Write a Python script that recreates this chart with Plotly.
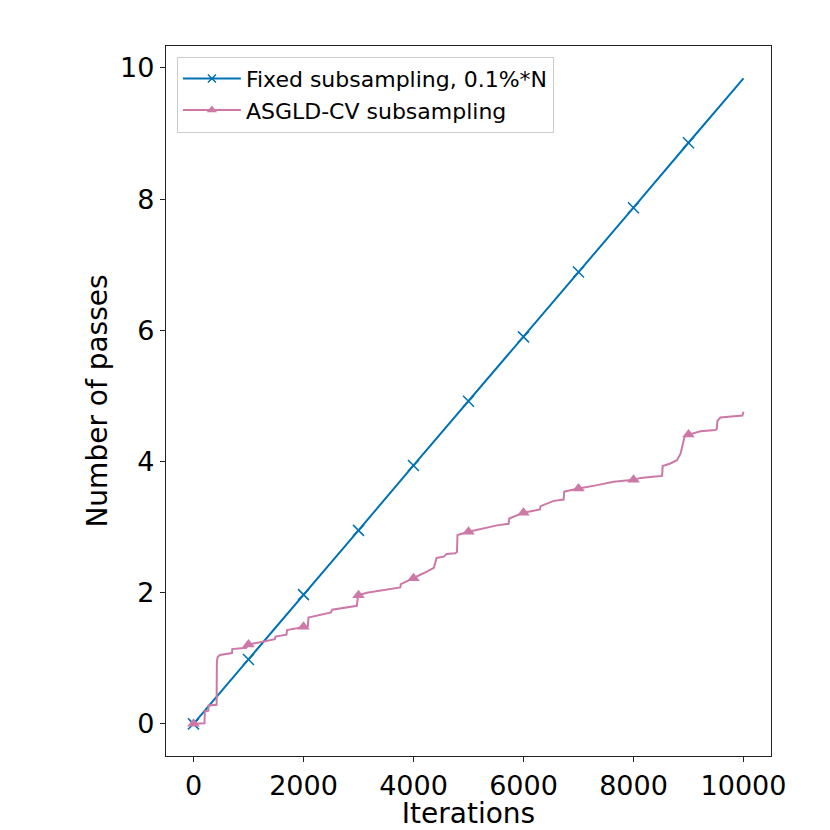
import plotly.graph_objects as go

# ---- data ----
fixed_iters = [0, 1000, 2000, 3000, 4000, 5000, 6000, 7000, 8000, 9000, 10000]
fixed_passes = [0.0, 0.98, 1.97, 2.95, 3.94, 4.92, 5.90, 6.89, 7.87, 8.86, 9.84]

asgld_iters = [0, 200, 205, 270, 275, 420, 425, 440, 480, 700, 705, 960, 1000,
               1480, 1490, 1690, 1700, 1900, 2000, 2080, 2090, 2500, 2520, 2970,
               2990, 3000, 3150, 3760, 3770, 4000, 4190, 4370, 4400, 4420, 4550,
               4600, 4760, 4790, 4800, 5000, 5540, 5730, 5740, 6000, 6300, 6310,
               6550, 6730, 6740, 7000, 7340, 7640, 8000, 8130, 8400, 8520, 8530,
               8670, 8790, 8855, 8915, 8930, 9000, 9220, 9490, 9515, 9525, 9580,
               9980, 10000]
asgld_passes = [0.0, 0.01, 0.19, 0.20, 0.28, 0.29, 0.95, 1.02, 1.05, 1.08, 1.14, 1.16, 1.21,
                1.29, 1.33, 1.36, 1.43, 1.46, 1.48, 1.49, 1.62, 1.70, 1.74, 1.80,
                1.95, 1.96, 2.00, 2.08, 2.13, 2.22, 2.30, 2.38, 2.47, 2.53, 2.55,
                2.59, 2.60, 2.62, 2.88, 2.93, 3.03, 3.05, 3.13, 3.22, 3.27, 3.32,
                3.40, 3.42, 3.54, 3.59, 3.64, 3.69, 3.72, 3.75, 3.77, 3.78, 3.93,
                3.97, 4.02, 4.12, 4.33, 4.38, 4.41, 4.46, 4.48, 4.50, 4.62, 4.67,
                4.70, 4.76]

marker_iters = [0, 1000, 2000, 3000, 4000, 5000, 6000, 7000, 8000, 9000]
asgld_marker_passes = [0.0, 1.21, 1.48, 1.96, 2.22, 2.93, 3.22, 3.59, 3.72, 4.41]

x_ticks = [0, 2000, 4000, 6000, 8000, 10000]
y_ticks = [0, 2, 4, 6, 8, 10]

fixed_name = "Fixed subsampling, 0.1%*N"
asgld_name = "ASGLD-CV subsampling"
BLUE = "#0072B2"
PINK = "#CC79A7"

fig = go.Figure()
# Fixed
fig.add_trace(go.Scatter(x=fixed_iters, y=fixed_passes, mode="lines",
                         line=dict(color=BLUE, width=2), showlegend=False))
fig.add_trace(go.Scatter(x=fixed_iters[:-1], y=fixed_passes[:-1], mode="markers",
                         marker=dict(symbol="x-thin", size=11, color=BLUE,
                                     line=dict(color=BLUE, width=1.5)),
                         showlegend=False))
# ASGLD
fig.add_trace(go.Scatter(x=asgld_iters, y=asgld_passes, mode="lines",
                         line=dict(color=PINK, width=2), showlegend=False))
fig.add_trace(go.Scatter(x=marker_iters, y=asgld_marker_passes, mode="markers",
                         marker=dict(symbol="triangle-up", size=11, color=PINK),
                         showlegend=False))
# legend entries
fig.add_trace(go.Scatter(x=[None], y=[None], mode="lines+markers", name=fixed_name,
                         line=dict(color=BLUE, width=2),
                         marker=dict(symbol="x-thin", size=8, color=BLUE,
                                     line=dict(color=BLUE, width=1.5))))
fig.add_trace(go.Scatter(x=[None], y=[None], mode="lines+markers", name=asgld_name,
                         line=dict(color=PINK, width=2),
                         marker=dict(symbol="triangle-up", size=9, color=PINK)))

axis_common = dict(showgrid=False, zeroline=False, showline=True, mirror=True,
                   linecolor="#222222", linewidth=1.3, ticks="outside",
                   ticklen=5, tickwidth=1.2, tickcolor="#222222",
                   tickfont=dict(size=27, color="black"))

fig.update_layout(
    width=822, height=822,
    paper_bgcolor="white", plot_bgcolor="white",
    font=dict(family="DejaVu Sans", color="black"),
    margin=dict(l=158, r=59, t=38, b=74, autoexpand=False),
    xaxis=dict(range=[-500, 10500], tickvals=x_ticks,
               ticktext=[str(v) for v in x_ticks],
               title=dict(text="Iterations", font=dict(size=28), standoff=5),
               **axis_common),
    yaxis=dict(range=[-0.49, 10.335], tickvals=y_ticks,
               ticktext=[str(v) for v in y_ticks],
               title=dict(text="Number of passes", font=dict(size=28), standoff=4),
               **axis_common),
    legend=dict(x=0.018, y=0.985, xanchor="left", yanchor="top",
                bgcolor="rgba(255,255,255,0.8)", bordercolor="#cccccc",
                borderwidth=1, font=dict(size=22, color="black"),
                itemwidth=58, tracegroupgap=0),
    showlegend=True,
)

fig.write_html("out.html")
